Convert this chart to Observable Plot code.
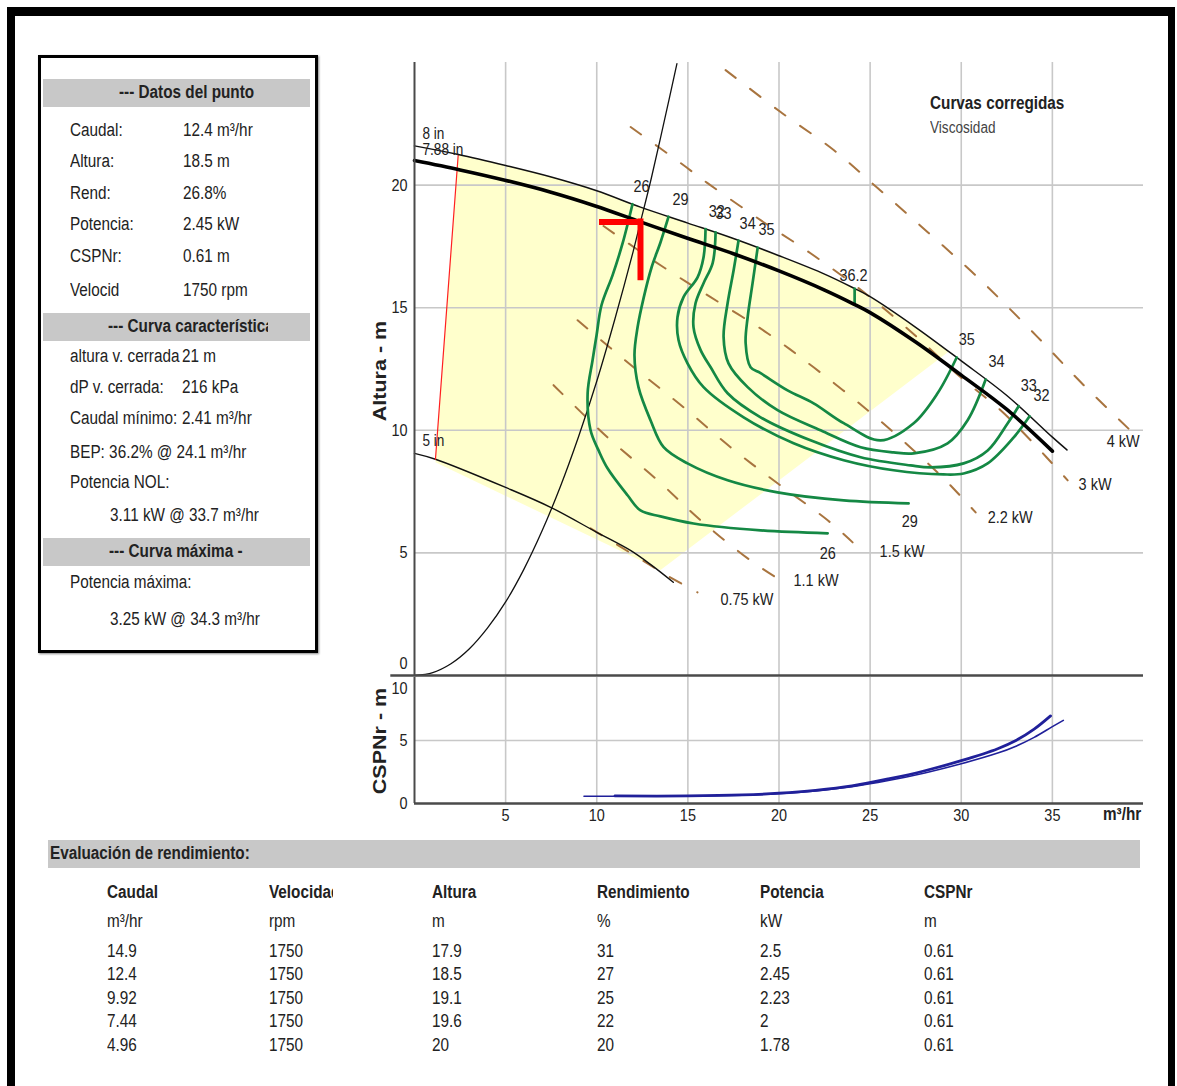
<!DOCTYPE html>
<html><head><meta charset="utf-8">
<script src="https://cdn.jsdelivr.net/npm/d3@7"></script>
<script src="https://cdn.jsdelivr.net/npm/@observablehq/plot@0.6"></script>
<style>
html,body{margin:0;padding:0;background:#fff;}
#page{position:relative;width:1177px;height:1086px;overflow:hidden;font-family:'Liberation Sans',Arial,sans-serif;color:#222;}
#page svg{position:absolute;left:0;}
.t{position:absolute;white-space:nowrap;}
.t > span{display:inline-block;transform-origin:0 50%;}
</style></head>
<body><div id="page"></div>
<script>
// ================= DATA =================
// operating point
const opQ = 12.4, opH = 18.5;
const markerQFrom = 10.15, markerHTo = 16.1;

// head curve, full diameter (8 in, thin)
const thinQ = [0, 2.4, 5, 7.5, 10, 12.4, 15, 17.5, 20, 22.5, 24.1, 25, 27.5, 30, 32.5, 35, 35.8];
const thinH = [21.6, 21.25, 20.8, 20.33, 19.77, 19.1, 18.45, 17.82, 17.12, 16.37, 15.8, 15.45, 14.2, 12.83, 11.42, 9.72, 9.2];
// head curve, trimmed (7.88 in, thick)
const thickQ = [0, 2.5, 4.96, 7.44, 9.92, 12.4, 14.9, 17.5, 20, 22.5, 24.1, 25, 27.5, 30, 32.5, 35];
const thickH = [21.0, 20.62, 20.2, 19.72, 19.15, 18.5, 17.85, 17.2, 16.5, 15.72, 15.15, 14.8, 13.6, 12.25, 10.85, 9.15];
// minimum diameter (5 in)
const minQ = [0, 1.15, 5, 7.47, 10, 11.85, 13, 14.2];
const minH = [9.06, 8.82, 7.67, 6.86, 5.84, 5.1, 4.5, 3.8];
// system curve
const sysQ = [0, 1, 2, 3, 4, 5, 6, 7, 8, 9, 10, 11, 12, 12.4, 13, 14, 14.4];
const sysH = [0, 0.12, 0.48, 1.08, 1.93, 3.0, 4.33, 5.9, 7.7, 9.74, 12.0, 14.55, 17.3, 18.5, 20.3, 23.6, 24.95];
// red trim line
const trimLine = [[2.4, 21.25], [1.15, 8.82]];
// yellow operating region (outline)
const regionQ = [2.4, 5, 7.5, 10, 12.4, 15, 17.5, 20, 22.5, 24.1, 25, 27.5, 29.3, 13.5, 1.15];
const regionH = [21.25, 20.8, 20.33, 19.77, 19.1, 18.45, 17.82, 17.12, 16.37, 15.8, 15.45, 14.2, 13.2, 4.3, 8.7];

// efficiency curves (%)
const eff26 = [[11.96,19.22],[11.42,17.63],[10.87,16.33],[10.26,15.10],[9.99,13.88],[9.77,12.86],[9.50,11.51],[9.66,10.0],[10.10,9.18],[10.59,8.45],[11.69,7.35],[12.40,6.73],[13.50,6.49],[15.31,6.20],[18.99,5.92],[22.67,5.80]];
const eff29 = [[13.94,18.71],[13.50,17.67],[13.01,16.65],[12.57,15.39],[12.24,14.20],[12.07,13.06],[12.29,11.76],[12.95,10.41],[13.67,9.31],[14.98,8.65],[17.18,7.96],[19.92,7.47],[23.55,7.14],[27.11,7.02]];
const eff32 = [[15.97,18.21],[15.86,17.06],[15.53,16.24],[14.76,15.43],[14.43,14.61],[14.49,13.67],[14.98,12.73],[15.86,11.76],[18.06,10.53],[20.80,9.47],[23.55,8.78],[26.29,8.37],[29.03,8.20],[30.13,8.24],[31.45,8.65],[32.88,9.71],[33.75,10.57]];
const eff33 = [[16.52,18.07],[16.36,16.82],[15.86,16.00],[15.42,15.18],[15.31,14.20],[15.70,13.27],[16.25,12.57],[17.18,11.51],[18.99,10.53],[21.73,9.59],[24.48,8.90],[27.22,8.57],[28.32,8.49],[30.13,8.65],[31.45,9.18],[32.55,10.29],[33.15,10.98]];
const eff34 = [[17.78,17.74],[17.51,16.53],[17.18,15.18],[16.96,13.80],[17.23,12.73],[18.28,11.76],[19.92,10.82],[22.28,10.00],[24.48,9.31],[26.29,9.10],[27.39,9.06],[29.25,9.47],[30.35,10.41],[31.34,12.07]];
const eff35 = [[18.83,17.45],[18.55,16.00],[18.28,14.61],[18.17,13.55],[18.44,12.57],[18.99,12.33],[20.47,11.63],[21.90,11.10],[23.55,10.29],[25.58,9.59],[27.39,10.29],[28.70,11.51],[29.75,12.97]];
const eff362 = [[24.15,15.78],[24.15,15.13]];

// iso-power lines (kW)
const pw075 = [[9.66,6.00],[12.24,4.82],[13.67,4.16],[15.53,3.39]];
const pw11  = [[7.63,11.84],[10.59,9.71],[13.34,7.96],[15.70,6.33],[18.44,4.69],[19.92,3.96]];
const pw15  = [[8.95,14.49],[12.02,12.57],[14.76,10.94],[17.34,9.31],[19.92,7.84],[22.67,6.33],[24.04,5.43]];
const pw22  = [[10.37,18.33],[13.50,16.73],[16.25,15.43],[19.37,13.96],[21.90,12.57],[24.86,10.82],[27.39,9.18],[29.14,7.96],[30.79,6.65]];
const pw3   = [[11.86,22.37],[14.60,20.90],[16.08,20.08],[18.99,18.57],[21.73,17.22],[24.86,15.51],[27.77,13.67],[29.97,12.16],[32.16,10.82],[33.81,9.59],[35.84,7.96]];
const pw4   = [[17.07,24.69],[20.09,22.98],[23.00,21.43],[25.41,19.88],[28.16,18.08],[30.90,16.24],[34.19,13.80],[36.72,11.84],[39.68,9.71]];

// curve labels
const effLabels = [
  {t:"26", q:12.46, h:19.96}, {t:"29", q:14.6, h:19.43}, {t:"32", q:16.58, h:18.94}, {t:"33", q:16.96, h:18.82},
  {t:"34", q:18.28, h:18.45}, {t:"35", q:19.32, h:18.2}, {t:"36.2", q:24.09, h:16.33},
  {t:"35", q:30.3, h:13.71}, {t:"34", q:31.94, h:12.82}, {t:"33", q:33.7, h:11.84}, {t:"32", q:34.41, h:11.43},
  {t:"29", q:27.17, h:6.29}, {t:"26", q:22.67, h:4.98}
];
const powerLabels = [
  {t:"0.75 kW", q:16.79, h:3.1}, {t:"1.1 kW", q:20.8, h:3.88}, {t:"1.5 kW", q:25.52, h:5.06},
  {t:"2.2 kW", q:31.45, h:6.45}, {t:"3 kW", q:36.44, h:7.8}, {t:"4 kW", q:37.98, h:9.55}
];
const diamLabels = [{t:"8 in", q:0.44, h:22.08}, {t:"7.88 in", q:0.44, h:21.43}, {t:"5 in", q:0.44, h:9.55}];

// NPSHr curves
const npshA = [[11,0.6],[15,0.6],[18,0.68],[20,0.82],[22,1.05],[24,1.4],[26,1.95],[28,2.6],[30,3.4],[32,4.35],[33,5.0],[34,5.9],[34.9,6.95]];
const npshB = [[9.3,0.58],[15,0.58],[18,0.66],[20,0.78],[22,1.0],[24,1.33],[26,1.82],[28,2.42],[30,3.15],[32,4.0],[33,4.55],[34,5.25],[35,6.1],[35.6,6.6]];

// axis ticks
const qTicks = [5, 10, 15, 20, 25, 30, 35];
const hTicks = [5, 10, 15, 20];

// info panel text
const infoPoint = [["Caudal:","12.4 m³/hr"],["Altura:","18.5 m"],["Rend:","26.8%"],["Potencia:","2.45 kW"],["CSPNr:","0.61 m"],["Velocid","1750 rpm"]];
const infoCurve = [["altura v. cerrada","21 m"],["dP v. cerrada:","216 kPa"],["Caudal mínimo:","2.41 m³/hr"]];
const infoBEP = "BEP: 36.2% @ 24.1 m³/hr";
const infoNOL = ["Potencia NOL:", "3.11 kW @ 33.7 m³/hr"];
const infoMax = ["Potencia máxima:", "3.25 kW @ 34.3 m³/hr"];

// performance table
const tableHeads = ["Caudal","Velocidad","Altura","Rendimiento","Potencia","CSPNr"];
const tableUnits = ["m³/hr","rpm","m","%","kW","m"];
const tableCaudal = ["14.9","12.4","9.92","7.44","4.96"];
const tableVeloc = ["1750","1750","1750","1750","1750"];
const tableAltura = ["17.9","18.5","19.1","19.6","20"];
const tableRend = ["31","27","25","22","20"];
const tablePot = ["2.5","2.45","2.23","2","1.78"];
const tableCSPN = ["0.61","0.61","0.61","0.61","0.61"];

// ================= RENDER =================
const SQ = 0.85; // horizontal squeeze of the original's narrow lettering
const FONT = "'Liberation Sans',Arial,sans-serif";
const page = document.getElementById("page");
const pts = (Q, H) => Q.map((q, i) => ({q, h: H[i]}));
const P = d => d[0], H = d => d[1];
const squeeze = svg => svg.querySelectorAll("text").forEach(t => {
  const tr = t.getAttribute("transform");
  if (tr) t.setAttribute("transform", tr + ` scale(${SQ},1)`);
});

const GREEN = "#148844", BROWN = "#a8743f", GRID = "#c8c8c8", AXIS = "#4a4a4a";
const powerLines = [pw075, pw11, pw15, pw22, pw3, pw4];
const effCurves = [eff26, eff29, eff32, eff33, eff34, eff35];

const topPlot = Plot.plot({
  width: 1177, height: 690,
  marginLeft: 414, marginRight: 34, marginTop: 62, marginBottom: 15,
  x: {domain: [0, 40], axis: null},
  y: {domain: [0, 25], axis: null},
  style: {background: "transparent", fontFamily: FONT, fontSize: "16px", color: "#222", overflow: "visible"},
  marks: [
    Plot.line(pts(regionQ, regionH), {x: "q", y: "h", fill: "#ffffcc", stroke: "none"}),
    Plot.gridX(qTicks, {stroke: GRID, strokeOpacity: 1, strokeWidth: 1.6}),
    Plot.gridY(hTicks, {stroke: GRID, strokeOpacity: 1, strokeWidth: 1.6}),
    ...powerLines.map(L => Plot.line(L, {x: P, y: H, stroke: BROWN, strokeWidth: 2, strokeDasharray: "13,18", curve: "catmull-rom"})),
    Plot.line(pts(sysQ, sysH), {x: "q", y: "h", stroke: "#111", strokeWidth: 1.3, curve: "catmull-rom"}),
    Plot.line(pts(minQ, minH), {x: "q", y: "h", stroke: "#111", strokeWidth: 1.4, curve: "catmull-rom"}),
    Plot.line(trimLine, {x: P, y: H, stroke: "#ff2020", strokeWidth: 1.2}),
    Plot.line(pts(thinQ, thinH), {x: "q", y: "h", stroke: "#111", strokeWidth: 1.5, curve: "catmull-rom"}),
    ...effCurves.map(C => Plot.line(C, {x: P, y: H, stroke: GREEN, strokeWidth: 2.7, curve: "catmull-rom"})),
    Plot.line(eff362, {x: P, y: H, stroke: GREEN, strokeWidth: 2.7}),
    Plot.line(pts(thickQ, thickH), {x: "q", y: "h", stroke: "#000", strokeWidth: 3.6, curve: "catmull-rom"}),
    Plot.ruleY([opH], {x1: markerQFrom, x2: opQ, stroke: "#ff0000", strokeWidth: 6}),
    Plot.ruleX([opQ], {y1: markerHTo, y2: opH + 0.12, stroke: "#ff0000", strokeWidth: 6}),
    Plot.text(effLabels, {x: "q", y: "h", text: "t", fontSize: 17, fill: "#222"}),
    Plot.text(powerLabels, {x: "q", y: "h", text: "t", fontSize: 17, textAnchor: "start", fill: "#222"}),
    Plot.text(diamLabels, {x: "q", y: "h", text: "t", fontSize: 16, textAnchor: "start", fill: "#222"}),
    Plot.ruleX([0], {stroke: AXIS, strokeWidth: 2}),
    Plot.ruleY([0], {x1: -1.3, x2: 40, stroke: AXIS, strokeWidth: 2.5}),
    Plot.text(hTicks, {y: d => d, frameAnchor: "left", dx: -7, textAnchor: "end", fontSize: 17, fill: "#222"}),
    Plot.text([0], {y: d => d, frameAnchor: "left", dx: -7, dy: -12, textAnchor: "end", fontSize: 17, fill: "#222"})
  ]
});
squeeze(topPlot);
topPlot.style.top = "0px";
page.appendChild(topPlot);

const botPlot = Plot.plot({
  width: 1177, height: 170,
  marginLeft: 414, marginRight: 34, marginTop: 17, marginBottom: 27,
  x: {domain: [0, 40], axis: null},
  y: {domain: [0, 10], axis: null},
  style: {background: "transparent", fontFamily: FONT, fontSize: "16px", color: "#222", overflow: "visible"},
  marks: [
    Plot.gridX(qTicks, {stroke: GRID, strokeOpacity: 1, strokeWidth: 1.6}),
    Plot.gridY([5], {stroke: GRID, strokeOpacity: 1, strokeWidth: 1.6}),
    Plot.line(npshB, {x: P, y: H, stroke: "#20209a", strokeWidth: 1.6, curve: "catmull-rom"}),
    Plot.line(npshA, {x: P, y: H, stroke: "#20209a", strokeWidth: 2.8, curve: "catmull-rom"}),
    Plot.ruleX([0], {stroke: AXIS, strokeWidth: 2}),
    Plot.ruleY([0], {stroke: AXIS, strokeWidth: 2.5}),
    Plot.text([0, 5], {y: d => d, frameAnchor: "left", dx: -7, textAnchor: "end", fontSize: 17, fill: "#222"}),
    Plot.text([10], {y: d => d, frameAnchor: "left", dx: -7, dy: 11, textAnchor: "end", fontSize: 17, fill: "#222"}),
    Plot.text(qTicks, {x: d => d, frameAnchor: "bottom", dy: 17, fontSize: 17, fill: "#222"})
  ]
});
squeeze(botPlot);
botPlot.style.top = "660px";
page.appendChild(botPlot);

// ---------- HTML decorations ----------
function place(txt, x, yc, o = {}) {
  const size = o.size || 18;
  const d = document.createElement("div");
  d.className = "t";
  d.style.left = x + "px";
  d.style.top = (yc - size * 0.6) + "px";
  d.style.fontSize = size + "px";
  d.style.lineHeight = (size * 1.2) + "px";
  if (o.weight) d.style.fontWeight = o.weight;
  if (o.color) d.style.color = o.color;
  if (o.width) { d.style.width = o.width + "px"; d.style.overflow = "hidden"; }
  const s = document.createElement("span");
  s.textContent = txt;
  s.style.transform = `scaleX(${o.sq || SQ})`;
  d.appendChild(s);
  page.appendChild(d);
  return d;
}
function box(x, y, w, h, css) {
  const d = document.createElement("div");
  d.style.position = "absolute";
  d.style.left = x + "px"; d.style.top = y + "px";
  d.style.width = w + "px"; d.style.height = h + "px";
  d.style.boxSizing = "border-box";
  Object.assign(d.style, css);
  page.appendChild(d);
  return d;
}
// outer frame
box(7, 7, 1168, 1100, {borderStyle: "solid", borderColor: "#000", borderWidth: "9px 7px 0 8px"});
// info panel
box(38, 55, 280, 598, {border: "3px solid #000", boxShadow: "1px 1px 2px #888"});
box(43, 79, 267, 28, {background: "#c8c8c8"});
box(43, 313, 267, 28, {background: "#c8c8c8"});
box(43, 538, 267, 28, {background: "#c8c8c8"});
place("--- Datos del punto", 119, 93, {weight: "bold"});
place("--- Curva característica", 108, 327, {weight: "bold", width: 160});
place("--- Curva máxima -", 109, 552, {weight: "bold"});
const rowsY1 = [131, 162, 194, 225, 257, 291];
infoPoint.forEach((r, i) => { place(r[0], 70, rowsY1[i]); place(r[1], 183, rowsY1[i]); });
const rowsY2 = [357, 388, 419];
infoCurve.forEach((r, i) => { place(r[0], 70, rowsY2[i]); place(r[1], 182, rowsY2[i]); });
place(infoBEP, 70, 453);
place(infoNOL[0], 70, 483);
place(infoNOL[1], 110, 516);
place(infoMax[0], 70, 583);
place(infoMax[1], 110, 620);

// chart titles
place("Curvas corregidas", 930, 104, {weight: "bold", size: 18});
place("Viscosidad", 930, 128, {size: 16, color: "#444"});
place("m³/hr", 1103, 815, {weight: "bold", size: 18});
const rot = (txt, cx, cy) => {
  const d = document.createElement("div");
  d.className = "t";
  d.textContent = txt;
  Object.assign(d.style, {left: cx + "px", top: cy + "px", transform: `translate(-50%,-50%) rotate(-90deg) scaleY(${SQ})`,
    fontWeight: "bold", fontSize: "21.5px", lineHeight: "22px"});
  page.appendChild(d);
};
rot("Altura - m", 380, 371);
rot("CSPNr - m", 380, 741);

// performance table
box(48, 840, 1092, 28, {background: "#c8c8c8"});
place("Evaluación de rendimiento:", 50, 854, {weight: "bold"});
const colX = [107, 269, 432, 597, 760, 924];
tableHeads.forEach((t, i) => place(t, colX[i], 893, {weight: "bold", width: i === 1 ? 64 : null}));
tableUnits.forEach((t, i) => place(t, colX[i], 922));
const rowY = [952, 975, 999, 1022, 1046];
[tableCaudal, tableVeloc, tableAltura, tableRend, tablePot, tableCSPN].forEach((col, i) =>
  col.forEach((v, j) => place(v, colX[i], rowY[j])));
</script>
</body></html>
